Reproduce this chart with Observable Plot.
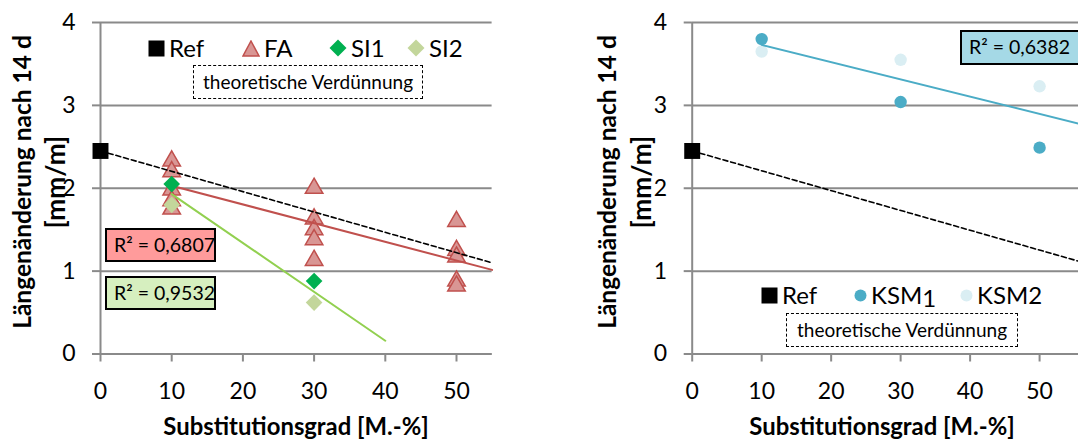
<!DOCTYPE html>
<html><head><meta charset="utf-8">
<script src="https://cdn.jsdelivr.net/npm/d3@7"></script>
<script src="https://cdn.jsdelivr.net/npm/@observablehq/plot@0.6"></script>
<style>
body{margin:0;background:#fff;font-family:Lato,"Open Sans",sans-serif;}
#wrap{position:relative;width:1078px;height:441px;overflow:hidden;}
.panel{position:absolute;top:0;height:441px;}
.ytitle{position:absolute;font-weight:bold;font-size:23.5px;line-height:1;transform:translate(-50%,-50%) rotate(-90deg);white-space:nowrap;}
.xtitle{position:absolute;font-weight:bold;font-size:23.5px;line-height:1;transform:translate(-50%,-50%);white-space:nowrap;}
.r2{position:absolute;border:2px solid #000;box-sizing:border-box;font-size:19.5px;line-height:30px;padding-left:7px;white-space:nowrap;}
.dbox{position:absolute;border:1.6px dashed #000;box-sizing:border-box;font-size:19px;text-align:center;white-space:nowrap;}
.leg{position:absolute;font-size:24px;line-height:1;display:flex;align-items:center;white-space:nowrap;}
.leg svg{margin-right:4px;}
</style></head>
<body><div id="wrap"></div>
<script>
// ---- data ----
const xTicks = [0, 10, 20, 30, 40, 50];
const yTicks = [0, 1, 2, 3, 4];
const refX = [0], refY = [2.45];
const faX = [10, 10, 10, 10, 10, 30, 30, 30, 30, 30, 50, 50, 50, 50, 50];
const faY = [2.33, 2.2, 1.98, 1.85, 1.75, 2.0, 1.63, 1.5, 1.38, 1.13, 1.6, 1.25, 1.17, 0.88, 0.82];
const si1X = [10, 30], si1Y = [2.05, 0.88];
const si2X = [10, 30], si2Y = [1.8, 0.62];
const faTrendX = [10, 55], faTrendY = [2.03, 1.015];
const siTrendX = [10, 40], siTrendY = [1.93, 0.16];
const dilLX = [0, 55], dilLY = [2.45, 1.10];
const ksm1X = [10, 30, 50], ksm1Y = [3.8, 3.04, 2.49];
const ksm2X = [10, 30, 50], ksm2Y = [3.65, 3.55, 3.23];
const ksmTrendX = [10, 55.6], ksmTrendY = [3.73, 2.78];
const dilRX = [0, 55.6], dilRY = [2.45, 1.12];
const r2Labels = ["R² = 0,6807", "R² = 0,9532", "R² = 0,6382"];
const yTitle = ["Längenänderung nach 14 d", "[mm/m]"];
const xTitle = "Substitutionsgrad [M.-%]";
const dilLabel = "theoretische Verdünnung";

const pts = (xs, ys) => xs.map((x, i) => ({x, y: ys[i]}));
const GRID = "#8a8a8a";

function axes() {
  return [
    Plot.gridY(yTicks, {stroke: GRID, strokeOpacity: 1, strokeWidth: 2}),
    Plot.axisY(yTicks, {tickSize: 8, tickPadding: 17, stroke: GRID, strokeWidth: 2, fill: "#000", label: null, tickFormat: d => String(d)}),
    Plot.axisX(xTicks, {tickSize: 8, tickPadding: 21, stroke: GRID, strokeWidth: 2, fill: "#000", label: null, tickFormat: d => String(d)}),
    Plot.ruleY([0], {stroke: GRID, strokeWidth: 2}),
    Plot.ruleX([0], {stroke: GRID, strokeWidth: 2})
  ];
}
const common = {height: 441, marginTop: 22, marginBottom: 87.5,
  y: {domain: [0, 4]}, style: {fontFamily: "Lato, 'Open Sans', sans-serif", fontSize: "23px", background: "transparent", overflow: "visible"}};

const left = Plot.plot({
  ...common, width: 540, marginLeft: 100, marginRight: 48.4,
  x: {domain: [0, 55]},
  marks: [
    ...axes(),
    Plot.dot(pts(faX, faY), {x: "x", y: "y", symbol: "triangle", r: 6.5, fill: "#d99694", stroke: "#c0504d", strokeWidth: 1.5}),
    Plot.line(pts(dilLX, dilLY), {x: "x", y: "y", stroke: "#000", strokeWidth: 1.6, strokeDasharray: "5,3"}),
    Plot.line(pts(faTrendX, faTrendY), {x: "x", y: "y", stroke: "#c0504d", strokeWidth: 2}),
    Plot.line(pts(siTrendX, siTrendY), {x: "x", y: "y", stroke: "#92d050", strokeWidth: 2}),
    Plot.dot(pts(si1X, si1Y), {x: "x", y: "y", symbol: "diamond2", r: 7.5, fill: "#00b050"}),
    Plot.dot(pts(si2X, si2Y), {x: "x", y: "y", symbol: "diamond2", r: 7.5, fill: "#c3d69b"}),
    Plot.dot(pts(refX, refY), {x: "x", y: "y", symbol: "square", r: 9, fill: "#000"})
  ]
});

const right = Plot.plot({
  ...common, width: 538, marginLeft: 151.7, marginRight: 0,
  x: {domain: [0, 55.6]},
  marks: [
    ...axes(),
    Plot.line(pts(dilRX, dilRY), {x: "x", y: "y", stroke: "#000", strokeWidth: 1.6, strokeDasharray: "5,3"}),
    Plot.dot(pts(ksm2X, ksm2Y), {x: "x", y: "y", r: 6.2, fill: "#daeef3"}),
    Plot.dot(pts(ksm1X, ksm1Y), {x: "x", y: "y", r: 6.2, fill: "#4bacc6"}),
    Plot.line(pts(ksmTrendX, ksmTrendY), {x: "x", y: "y", stroke: "#4bacc6", strokeWidth: 2}),
    Plot.dot(pts(refX, refY), {x: "x", y: "y", symbol: "square", r: 9, fill: "#000"})
  ]
});

const wrap = document.getElementById("wrap");
function panel(svg, x0, w) {
  const p = document.createElement("div");
  p.className = "panel"; p.style.left = x0 + "px"; p.style.width = w + "px";
  p.appendChild(svg); wrap.appendChild(p); return p;
}
const pL = panel(left, 0, 540);
const pR = panel(right, 540, 538);

function add(p, cls, html, css) {
  const d = document.createElement("div");
  d.className = cls; d.innerHTML = html; Object.assign(d.style, css); p.appendChild(d); return d;
}
// scale a text element's font so its unrotated width equals a target
function fit(el, target) {
  const fs = parseFloat(getComputedStyle(el).fontSize);
  const w = el.offsetWidth;
  if (w > 0) el.style.fontSize = (fs * target / w).toFixed(2) + "px";
}
const sym = {
  square: c => `<svg width="17" height="17"><rect x="0.5" y="0.5" width="16" height="16" fill="${c}"/></svg>`,
  tri: () => `<svg width="18" height="17"><path d="M9,1 L17,16 L1,16 Z" fill="#d99694" stroke="#c0504d" stroke-width="1.5"/></svg>`,
  dia: c => `<svg width="18" height="18"><path d="M9,0.5 L17.5,9 L9,17.5 L0.5,9 Z" fill="${c}"/></svg>`,
  circ: c => `<svg width="13" height="13"><circle cx="6.5" cy="6.5" r="6" fill="${c}"/></svg>`
};

// titles
for (const [p, c1, c2] of [[pL, 22, 55], [pR, 67, 101]]) {
  fit(add(p, "ytitle", yTitle[0], {left: c1 + "px", top: "182px"}), 294);
  fit(add(p, "ytitle", yTitle[1], {left: c2 + "px", top: "182px"}), 93);
}
fit(add(pL, "xtitle", xTitle, {left: "296px", top: "426px"}), 265);
fit(add(pR, "xtitle", xTitle, {left: "342px", top: "426px"}), 265);

// left legend
add(pL, "leg", sym.square("#000") + "Ref", {left: "148px", top: "36px"});
add(pL, "leg", sym.tri() + "FA", {left: "242px", top: "36px"});
add(pL, "leg", sym.dia("#00b050") + "SI1", {left: "329px", top: "36px"});
add(pL, "leg", sym.dia("#c3d69b") + "SI2", {left: "407px", top: "36px"});
add(pL, "dbox", dilLabel, {left: "193px", top: "65px", width: "230px", height: "34px", lineHeight: "31px"});
add(pL, "r2", r2Labels[0], {left: "105px", top: "228px", width: "111px", height: "34px", background: "#ff9b9b"});
add(pL, "r2", r2Labels[1], {left: "105px", top: "276px", width: "111px", height: "34px", background: "#d6efbf"});

// right legend
add(pR, "leg", sym.square("#000") + "Ref", {left: "221px", top: "283px"});
add(pR, "leg", sym.circ("#4bacc6") + "KSM<span style='position:relative;top:3px'>1</span>", {left: "314px", top: "283px"});
add(pR, "leg", sym.circ("#daeef3") + "KSM2", {left: "420px", top: "283px"});
add(pR, "dbox", dilLabel, {left: "246px", top: "313px", width: "232px", height: "34px", lineHeight: "31px"});
add(pR, "r2", r2Labels[2], {left: "420px", top: "30px", width: "140px", height: "35px", background: "#a5d9e6"});
</script></body></html>
